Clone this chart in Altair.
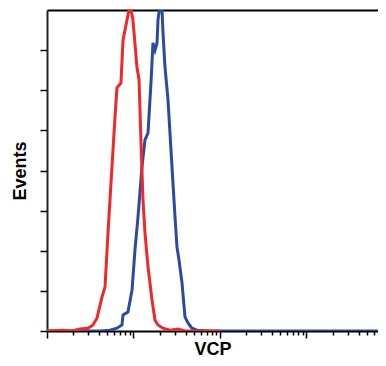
import altair as alt
import pandas as pd

# Red histogram (intensity, events in axis units 0-8)
red_x = [1.0, 1.49, 1.95, 2.41, 2.98, 3.40, 3.78, 4.33, 4.69, 5.07, 5.64, 6.11, 6.44,
         7.16, 7.57, 8.41, 8.87, 9.12, 9.86, 10.96, 11.59, 12.22, 12.88, 13.58, 14.72,
         16.37, 17.74, 19.19, 21.93, 26.42, 32.66, 39.36, 58.75, 100.0]
red_y = [0, 0.02, 0, 0.05, 0.07, 0.15, 0.32, 0.85, 1.10, 2.44, 4.09, 5.33, 6.06,
         6.18, 7.25, 7.75, 8.0, 8.13, 7.75, 6.58, 6.26, 4.69, 3.27, 2.44, 1.60,
         0.77, 0.27, 0.15, 0.07, 0.02, 0.05, 0, 0, 0]

# Blue histogram
blue_x = [1.0, 4.10, 5.35, 6.44, 7.36, 7.57, 8.63, 9.62, 10.40, 11.27, 12.53, 13.58,
          14.72, 15.92, 16.79, 17.74, 18.71, 19.19, 20.23, 21.33, 21.93, 23.12, 25.06,
          27.86, 30.20, 31.84, 33.57, 36.39, 39.36, 42.66, 47.42, 54.20, 76.56, 6710.0]
blue_y = [0, 0, 0.02, 0.07, 0.15, 0.40, 0.47, 1.02, 2.02, 2.84, 4.09, 4.76,
          4.94, 6.18, 7.18, 7.00, 7.18, 7.75, 8.13, 8.05, 7.43, 6.58, 5.76,
          4.09, 2.84, 2.09, 1.77, 1.20, 0.35, 0.20, 0.07, 0.02, 0, 0]

x_ticks = [1, 2, 3, 4, 5, 6, 7, 8, 9,
           10, 20, 30, 40, 50, 60, 70, 80, 90,
           100, 200, 300, 400, 500, 600, 700, 800, 900,
           1000, 2000, 3000, 4000, 5000, 6000]
y_ticks = [0, 1, 2, 3, 4, 5, 6, 7]

red = pd.DataFrame({"x": red_x, "y": red_y, "s": "red"})
blue = pd.DataFrame({"x": blue_x, "y": blue_y, "s": "blue"})

TITLE_FONT = "Liberation Sans Narrow, Arial Narrow, Liberation Sans, Arial, sans-serif"

xscale = alt.Scale(type="log", domain=[1, 6710], nice=False)
yscale = alt.Scale(domain=[0, 8], nice=False, zero=True)

x_axis = alt.Axis(
    values=x_ticks, labels=False, grid=False, title="VCP",
    domainColor="black", domainWidth=2, tickColor="black", tickWidth=1.5,
    tickSize={"condition": {"test": "indexof([1,10,100,1000], datum.value) >= 0", "value": 7}, "value": 4},
    titleFont=TITLE_FONT, titleFontSize=18, titleFontWeight="bold", titleColor="black",
    titlePadding=2,
)
y_axis = alt.Axis(
    values=y_ticks, labels=False, grid=False, title="Events",
    domainColor="#222222", domainWidth=2, tickColor="black", tickWidth=1.5, tickSize=7,
    titleFont=TITLE_FONT, titleFontSize=18, titleFontWeight="bold", titleColor="black",
    titlePadding=10,
)

blue_line = alt.Chart(blue).mark_line(color="#2b4aa3", strokeWidth=3, clip=True).encode(
    x=alt.X("x:Q", scale=xscale, axis=x_axis),
    y=alt.Y("y:Q", scale=yscale, axis=y_axis),
)
red_line = alt.Chart(red).mark_line(color="#f0282a", strokeWidth=3, clip=True).encode(
    x=alt.X("x:Q", scale=xscale, axis=None),
    y=alt.Y("y:Q", scale=yscale),
)
top_frame = alt.Chart(blue).mark_line(opacity=0).encode(
    x=alt.X("x:Q", scale=xscale, axis=alt.Axis(orient="top", labels=False, ticks=False,
                                               values=[1], grid=False,
                                               title=None, domainColor="black", domainWidth=2)),
    y=alt.Y("y:Q", scale=yscale),
)

chart = alt.layer(blue_line, red_line, top_frame).resolve_axis(x="independent").properties(
    width=331, height=321,
    autosize=alt.AutoSizeParams(type="none"),
    padding={"left": 39, "top": 2, "right": 0, "bottom": 27},
).configure_view(stroke=None).configure(background="white")

chart.save("out.html", embed_options={"renderer": "svg", "actions": False})
